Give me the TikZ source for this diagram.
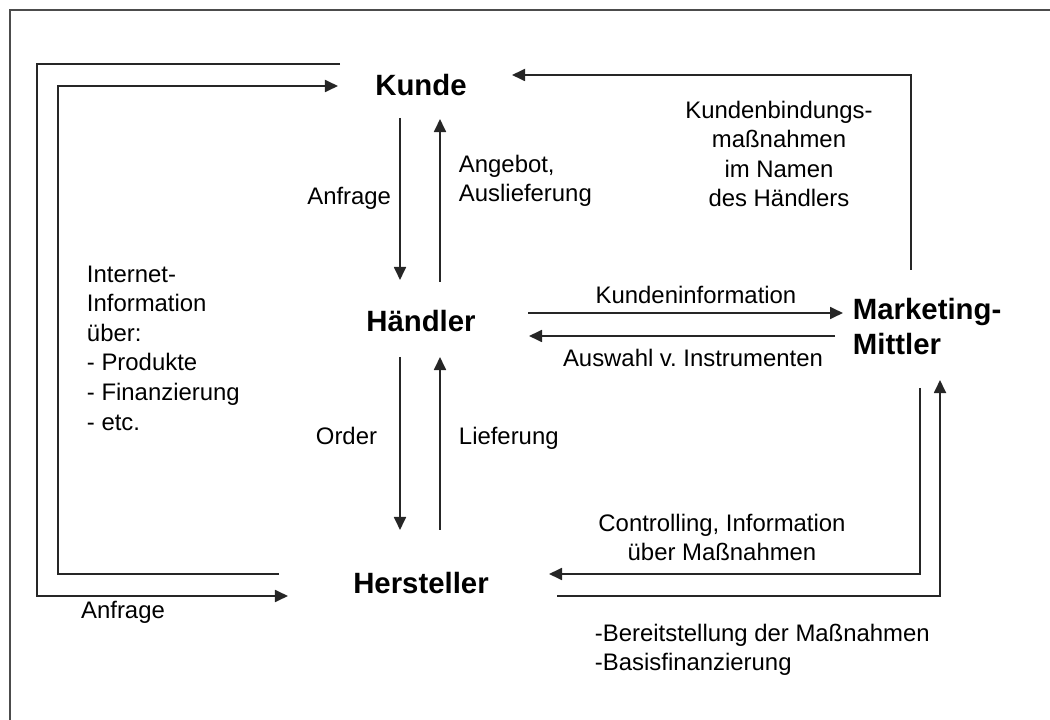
\documentclass[tikz,border=0pt]{standalone}
\usepackage{fontspec}
\setmainfont{Liberation Sans}
\usetikzlibrary{arrows.meta, positioning}

\begin{document}
\begin{tikzpicture}[
    x=0.2mm, y=-0.2mm,
    line width=1.1pt,
    actor/.style={font=\fontsize{16.7}{19.8}\selectfont\bfseries, align=left, inner sep=0pt},
    lbl/.style={font=\fontsize{13.6}{16.8}\selectfont, inner sep=0pt},
    flow/.style={draw=black!85, -{Triangle[length=7.4pt, width=6.8pt]}},
    frame/.style={draw=black!70, line width=1.2pt},
  ]
  \useasboundingbox (0,0) rectangle (1050,720);
  \draw[frame] (10,725) -- (10,10) -- (1055,10);

  % ===== actors =====
  \node[actor] (kunde) at (421,85) {Kunde};
  \node[actor] (haendler) at (421,321) {Händler};
  \node[actor] (hersteller) at (421,583) {Hersteller};
  \node[actor, anchor=north west] (mittler) at (852,297) {Marketing-\\Mittler};

  % ===== anchor points of the connectors =====
  \coordinate (kundeOutL) at (400,118);  \coordinate (haendlerInL) at (400,280);
  \coordinate (haendlerOutR) at (440,282); \coordinate (kundeInR) at (440,119);
  \coordinate (haendlerOutL) at (400,357); \coordinate (herstInL) at (400,530);
  \coordinate (herstOutR) at (440,530);  \coordinate (haendlerInR) at (440,357);
  \coordinate (kundeOutW) at (340,64);   \coordinate (herstInW) at (288,596);
  \coordinate (herstOutW) at (279,574);  \coordinate (kundeInW) at (338,86);
  \coordinate (mittlerOutN) at (911,270); \coordinate (kundeInE) at (512,75);
  \coordinate (haendlerOutE) at (528,313); \coordinate (mittlerInW) at (843,313);
  \coordinate (mittlerOutW) at (835,336); \coordinate (haendlerInE) at (529,336);
  \coordinate (mittlerOutS) at (920,388); \coordinate (herstInE) at (549,574);
  \coordinate (herstOutE) at (557,596);  \coordinate (mittlerInS) at (940,380);

  % ===== connectors =====
  \draw[flow] (kundeOutL) -- (haendlerInL);
  \draw[flow] (haendlerOutR) -- (kundeInR);
  \draw[flow] (haendlerOutL) -- (herstInL);
  \draw[flow] (herstOutR) -- (haendlerInR);
  \draw[flow] (kundeOutW) -- (37,64) -- (37,596) -- (herstInW);
  \draw[flow] (herstOutW) -- (58,574) -- (58,86) -- (kundeInW);
  \draw[flow] (mittlerOutN) -- (911,75) -- (kundeInE);
  \draw[flow] (haendlerOutE) -- (mittlerInW);
  \draw[flow] (mittlerOutW) -- (haendlerInE);
  \draw[flow] (mittlerOutS) -- (920,574) -- (herstInE);
  \draw[flow] (herstOutE) -- (940,596) -- (mittlerInS);

  % ===== labels =====
  \node[lbl, anchor=east] (lAnfrageK) at (392,198) {Anfrage};
  \node[lbl, anchor=west, align=left] (lAngebot) at (458,181) {Angebot,\\Auslieferung};
  \node[lbl, anchor=east] (lOrder) at (378,436) {Order};
  \node[lbl, anchor=west] (lLieferung) at (458,438) {Lieferung};
  \node[lbl] (lAnfrageH) at (123,612) {Anfrage};
  \node[lbl, anchor=north west, align=left] (lInternet) at (86,265)
    {Internet-\\Information\\über:\\- Produkte\\- Finanzierung\\- etc.};
  \node[lbl] (lKundeninfo) at (696,295) {Kundeninformation};
  \node[lbl] (lAuswahl) at (693,358) {Auswahl v.\ Instrumenten};
  \node[lbl, anchor=north, align=center] (lBindung) at (779,100)
    {Kundenbindungs-\\maßnahmen\\im Namen\\des Händlers};
  \node[lbl, anchor=north, align=center] (lControlling) at (722,513)
    {Controlling, Information\\über Maßnahmen};
  \node[lbl, anchor=north west, align=left] (lBereit) at (594,623)
    {-Bereitstellung der Maßnahmen\\-Basisfinanzierung};
\end{tikzpicture}
\end{document}
